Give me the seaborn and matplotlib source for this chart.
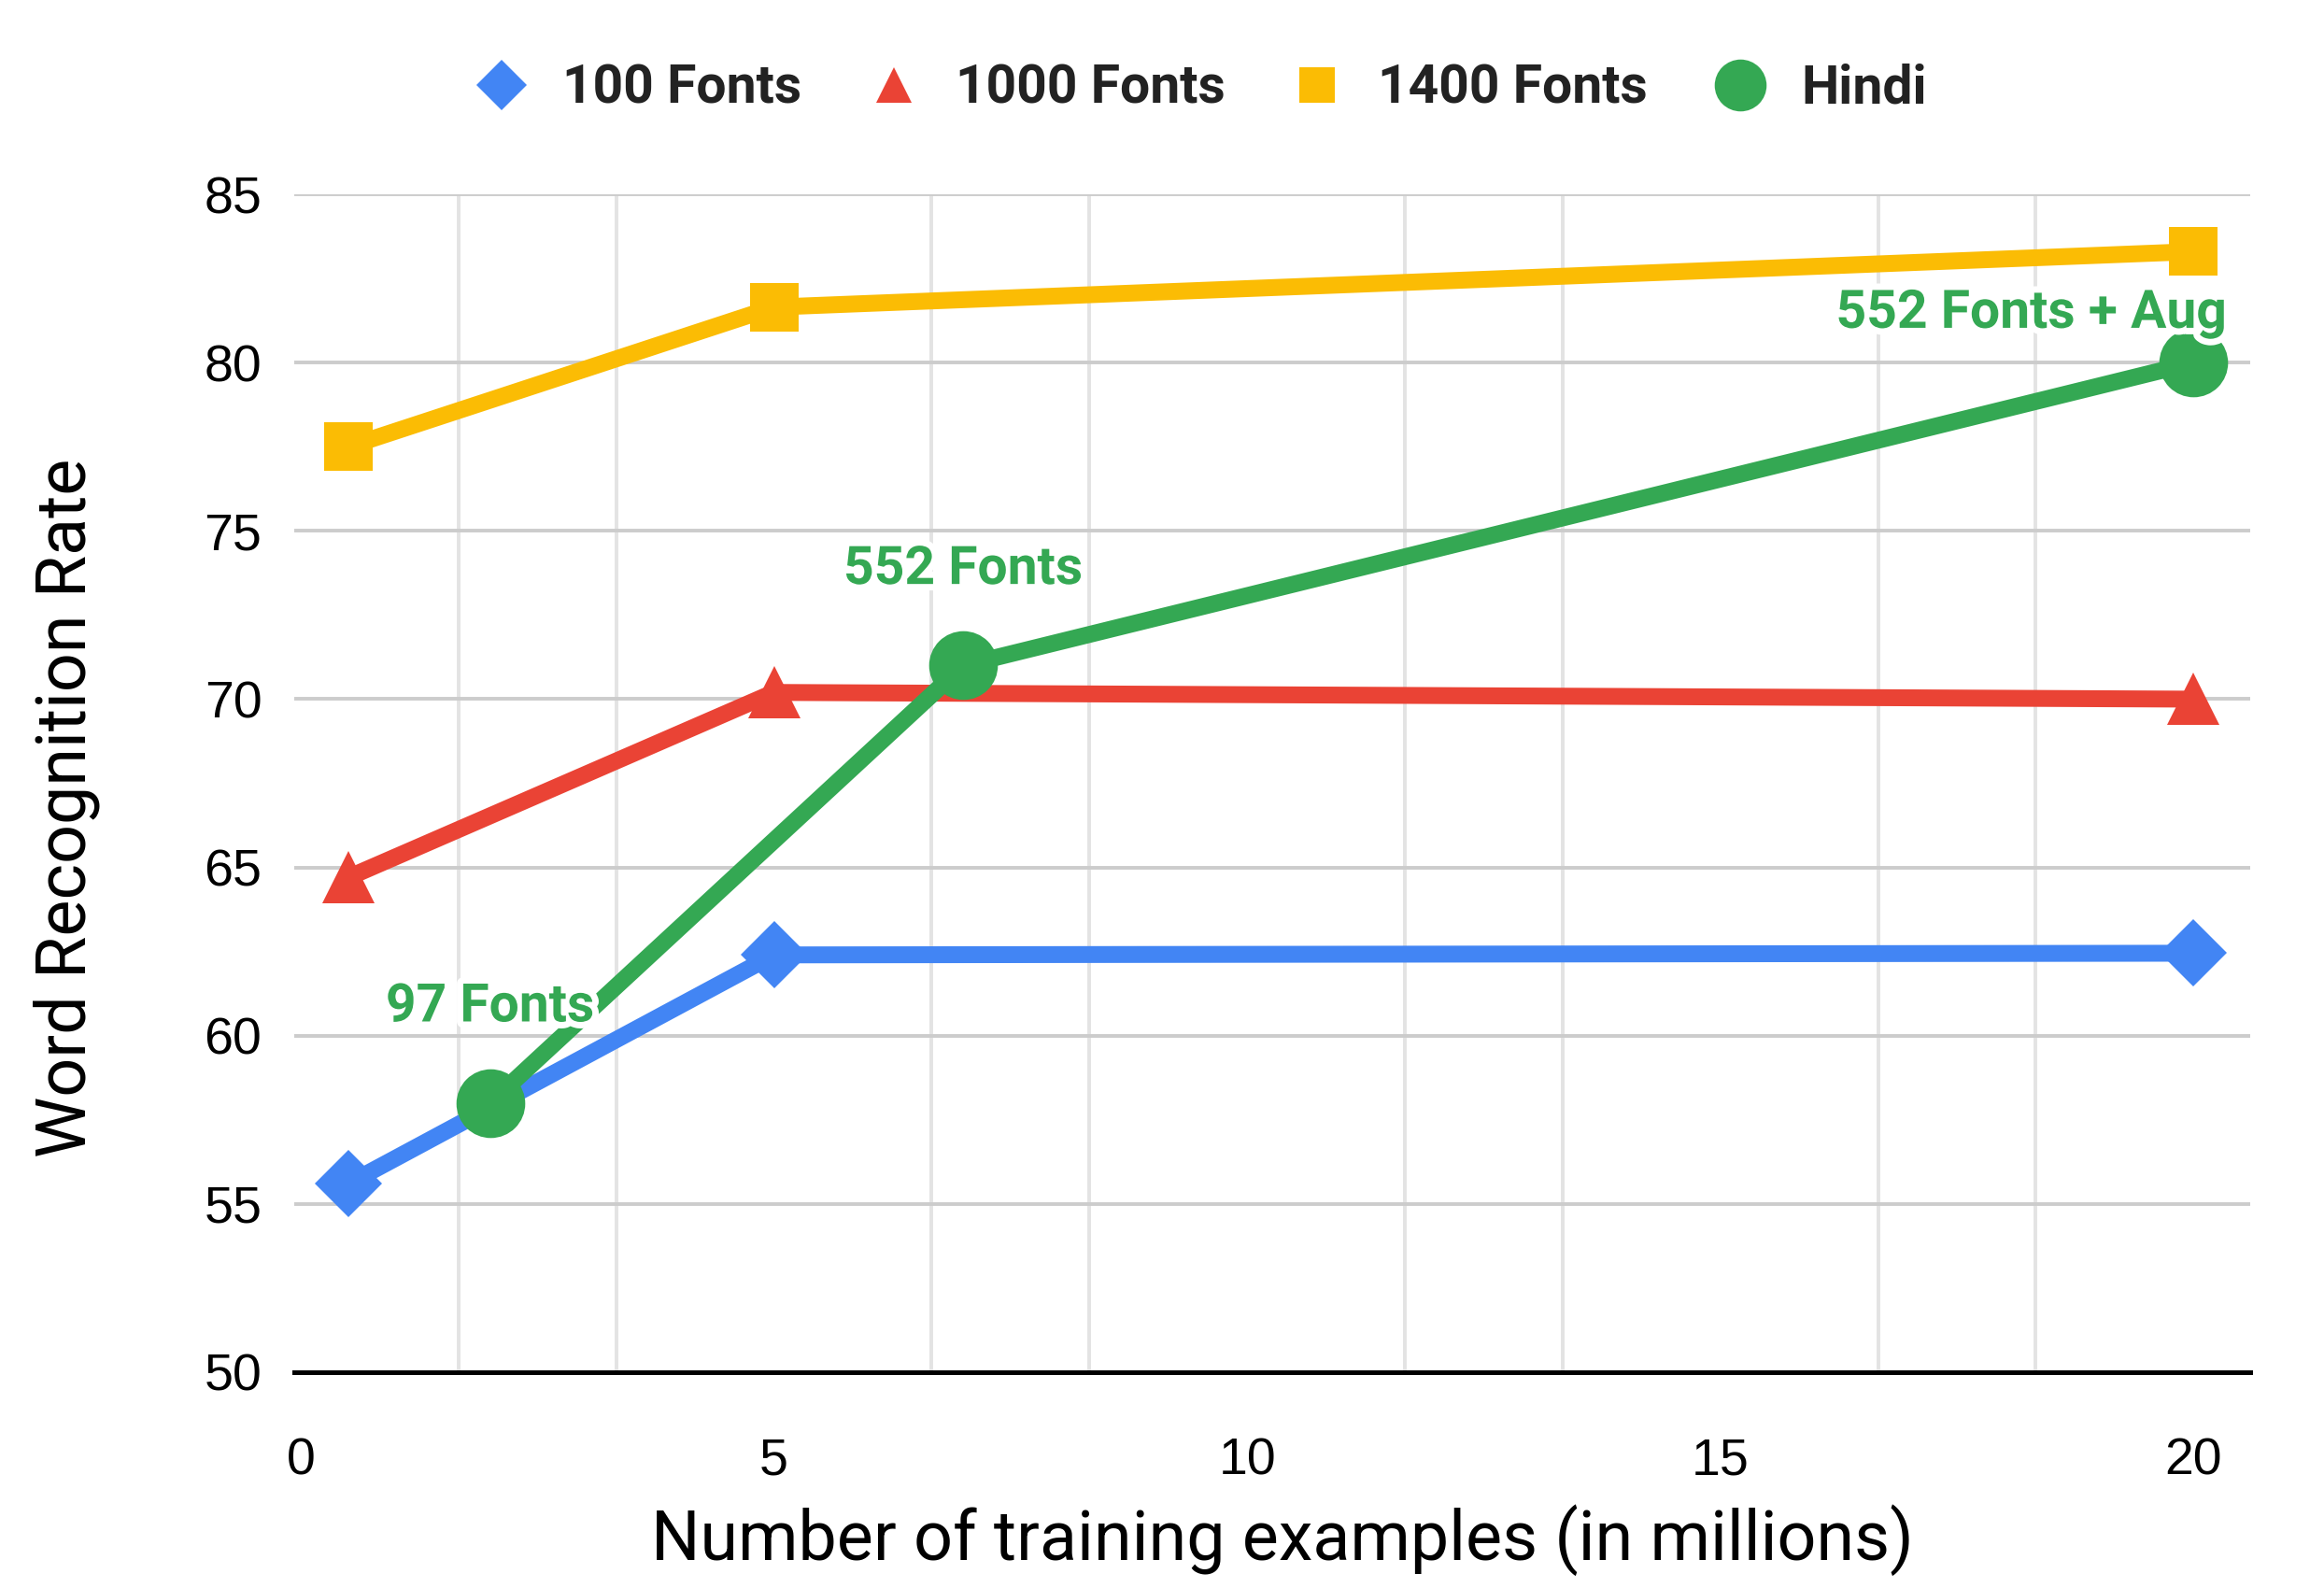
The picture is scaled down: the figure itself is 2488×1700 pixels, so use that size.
import matplotlib
matplotlib.use("Agg")
import matplotlib.pyplot as plt
import matplotlib.patheffects as pe
from matplotlib.lines import Line2D
from matplotlib.ticker import FixedLocator
import seaborn as sns
import pandas as pd

# data
series_names = ["100 Fonts", "1000 Fonts", "1400 Fonts", "Hindi"]
x_100 = [0.5, 5, 20]
y_100 = [55.6, 62.4, 62.45]
x_1000 = [0.5, 5, 20]
y_1000 = [64.7, 70.2, 70.0]
x_1400 = [0.5, 5, 20]
y_1400 = [77.5, 81.65, 83.3]
x_hindi = [2, 7, 20]
y_hindi = [58.0, 71.0, 80.0]
hindi_labels = ["97 Fonts", "552 Fonts", "552 Fonts + Aug"]

x_ticks = [0, 5, 10, 15, 20]
y_ticks = [50, 55, 60, 65, 70, 75, 80, 85]

colors = ["#4285F4", "#EA4335", "#FBBC04", "#34A853"]
markers = ["D", "^", "s", "o"]
sizes = [18.5, 20, 18.5, 26.5]

sns.set_theme(style="white")
plt.rcParams["font.family"] = ["Roboto", "DejaVu Sans"]

fig = plt.figure(figsize=(12.44, 8.5), dpi=200)
ax = fig.add_axes([0.1266, 0.1359, 0.9683 - 0.1266, 0.8776 - 0.1359])

frames = [
    pd.DataFrame({"x": x_100, "y": y_100}),
    pd.DataFrame({"x": x_1000, "y": y_1000}),
    pd.DataFrame({"x": x_1400, "y": y_1400}),
    pd.DataFrame({"x": x_hindi, "y": y_hindi}),
]
for i, df in enumerate(frames):
    sns.lineplot(data=df, x="x", y="y", ax=ax, color=colors[i], marker=markers[i],
                 markersize=sizes[i], markeredgewidth=0, linewidth=6.5,
                 zorder=3 + i, clip_on=False, legend=False)

# point labels for Hindi series
offsets = [(0, 37, "center"), (0, 37, "center"), (13, 19, "right")]
for (xv, yv, lab, (dx, dy, ha)) in zip(x_hindi, y_hindi, hindi_labels, offsets):
    ax.annotate(lab, (xv, yv), xytext=(dx, dy), textcoords="offset points",
                ha=ha, va="center", fontsize=20.5, fontweight="bold", color=colors[3],
                zorder=10, path_effects=[pe.withStroke(linewidth=5, foreground="white")])

ax.set_xlim(-0.07, 20.6)
ax.set_ylim(50, 85)
ax.set_yticks(y_ticks)
ax.set_xticks(x_ticks)
ax.xaxis.set_minor_locator(FixedLocator([v * 5 / 3 for v in range(13) if v % 3 != 0]))
ax.tick_params(axis="x", which="major", length=0, pad=25, labelcolor="black")
ax.tick_params(axis="x", which="minor", direction="inout", length=10, width=1.8, color="black")
ax.tick_params(axis="y", length=0, pad=12.5, labelcolor="black")
for lab in ax.get_xticklabels() + ax.get_yticklabels():
    lab.set_fontfamily("Liberation Sans")
    lab.set_fontsize(20)

ax.grid(False)
ax.yaxis.grid(True, color="#cccccc", linewidth=1.4, zorder=0)
ax.xaxis.grid(True, which="minor", color="#e3e3e3", linewidth=1.4, zorder=0)
ax.set_axisbelow(True)
for side in ["top", "right", "left"]:
    ax.spines[side].set_visible(False)
ax.spines["bottom"].set_color("black")
ax.spines["bottom"].set_linewidth(1.8)
ax.spines["bottom"].set_zorder(2)

ax.set_xlabel("Number of training examples (in millions)", fontsize=26.5, labelpad=7, color="black")
ax.set_ylabel("Word Recognition Rate", fontsize=26.5, labelpad=40, color="black")
ax.xaxis.label.set_x(0.505)
ax.yaxis.label.set_y(0.479)

handles = [Line2D([], [], linestyle="none", marker=m, color=c, markersize=s, markeredgewidth=0)
           for m, c, s in zip(markers, colors, [14, 14, 14, 20])]
fig.legend(handles, series_names, loc="center", bbox_to_anchor=(0.511, 0.944), ncol=4,
           frameon=False, prop={"size": 20.5, "weight": "bold"}, handletextpad=0.15,
           columnspacing=0.73, labelcolor="#222222")

fig.savefig("out.png", dpi=200)
plt.close(fig)
